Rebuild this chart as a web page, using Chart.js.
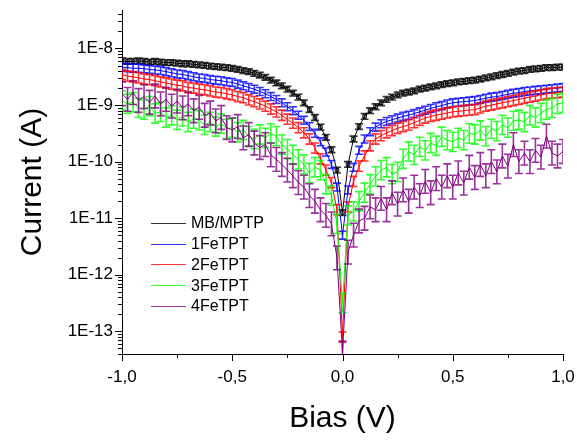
<!doctype html>
<html lang="en">
  <head>
    <meta charset="UTF-8" />
    <title>Current vs Bias</title>
    <script src="https://cdn.jsdelivr.net/npm/chart.js"></script>
    <style>
      html, body { margin: 0; padding: 0; background: #fff; overflow: hidden; }
      .chart-container { position: relative; width: 577px; height: 440px; }
    </style>
  </head>
  <body>
    <div class="chart-container">
      <canvas id="ivChart" width="577" height="440"></canvas>
    </div>

    <script>
      // Bias values (V), step 0.025
      const bias = [
        -1.0, -0.975, -0.95, -0.925, -0.9, -0.875, -0.85, -0.825, -0.8, -0.775,
        -0.75, -0.725, -0.7, -0.675, -0.65, -0.625, -0.6, -0.575, -0.55, -0.525,
        -0.5, -0.475, -0.45, -0.425, -0.4, -0.375, -0.35, -0.325, -0.3, -0.275,
        -0.25, -0.225, -0.2, -0.175, -0.15, -0.125, -0.1, -0.075, -0.05, -0.025,
        0,
        0.025, 0.05, 0.075, 0.1, 0.125, 0.15, 0.175, 0.2, 0.225, 0.25,
        0.275, 0.3, 0.325, 0.35, 0.375, 0.4, 0.425, 0.45, 0.475, 0.5,
        0.525, 0.55, 0.575, 0.6, 0.625, 0.65, 0.675, 0.7, 0.725, 0.75,
        0.775, 0.8, 0.825, 0.85, 0.875, 0.9, 0.925, 0.95, 0.975, 1.0,
      ];

      // log10 of current (A)
      const mbMptp = [
        -8.22, -8.23, -8.23, -8.22, -8.23, -8.24, -8.23, -8.24, -8.25, -8.25,
        -8.26, -8.27, -8.27, -8.28, -8.29, -8.30, -8.31, -8.32, -8.33, -8.34,
        -8.35, -8.37, -8.39, -8.41, -8.44, -8.47, -8.51, -8.56, -8.61, -8.66,
        -8.72, -8.79, -8.86, -8.96, -9.08, -9.22, -9.39, -9.57, -9.79, -10.15,
        -10.9,
        -10.05, -9.60, -9.38, -9.20, -9.10, -9.03, -8.96, -8.90, -8.86, -8.82,
        -8.79, -8.77, -8.75, -8.72, -8.70, -8.68, -8.66, -8.64, -8.62, -8.61,
        -8.59, -8.58, -8.57, -8.56, -8.54, -8.52, -8.50, -8.48, -8.46, -8.44,
        -8.42, -8.40, -8.39, -8.37, -8.36, -8.35, -8.34, -8.34, -8.33, -8.33,
      ];
      const fe1 = [
        -8.33, -8.34, -8.35, -8.35, -8.36, -8.37, -8.38, -8.39, -8.41, -8.43,
        -8.45, -8.46, -8.48, -8.50, -8.52, -8.53, -8.55, -8.56, -8.57, -8.59,
        -8.60, -8.63, -8.66, -8.69, -8.72, -8.76, -8.80, -8.85, -8.90, -8.96,
        -9.03, -9.10, -9.18, -9.27, -9.38, -9.50, -9.65, -9.83, -10.05, -10.45,
        -11.3,
        -10.50, -10.10, -9.80, -9.60, -9.47, -9.39, -9.33, -9.29, -9.26, -9.23,
        -9.20, -9.18, -9.15, -9.12, -9.09, -9.06, -9.03, -9.01, -8.98, -8.96,
        -8.95, -8.94, -8.93, -8.92, -8.90, -8.88, -8.86, -8.85, -8.83, -8.81,
        -8.79, -8.78, -8.76, -8.75, -8.74, -8.73, -8.72, -8.71, -8.70, -8.69,
      ];
      const fe2 = [
        -8.46, -8.49, -8.50, -8.52, -8.54, -8.55, -8.57, -8.59, -8.61, -8.63,
        -8.65, -8.66, -8.69, -8.70, -8.72, -8.73, -8.75, -8.77, -8.78, -8.80,
        -8.82, -8.85, -8.87, -8.91, -8.94, -8.98, -9.02, -9.07, -9.12, -9.18,
        -9.25, -9.32, -9.40, -9.49, -9.60, -9.76, -9.95, -10.15, -10.37, -10.85,
        -13.1,
        -10.80, -10.35, -10.08, -9.90, -9.72, -9.60, -9.54, -9.49, -9.45, -9.41,
        -9.38, -9.35, -9.31, -9.27, -9.23, -9.20, -9.18, -9.16, -9.14, -9.12,
        -9.11, -9.10, -9.09, -9.08, -9.05, -9.02, -9.00, -8.98, -8.96, -8.94,
        -8.92, -8.90, -8.88, -8.86, -8.84, -8.82, -8.80, -8.79, -8.78, -8.77,
      ];
      const fe3 = [
        -8.92, -8.98, -8.95, -9.05, -9.08, -9.02, -9.15, -9.12, -9.22, -9.18,
        -9.26, -9.20, -9.30, -9.24, -9.27, -9.35, -9.30, -9.38, -9.33, -9.42,
        -9.40, -9.48, -9.44, -9.55, -9.60, -9.52, -9.58, -9.50, -9.55, -9.70,
        -9.78, -9.88, -9.96, -10.05, -10.20, -10.10, -10.15, -10.40, -10.60, -11.10,
        -12.5,
        -10.95, -10.88, -10.70, -10.55, -10.40, -10.26, -10.15, -10.10, -10.22, -10.18,
        -9.95, -9.82, -9.88, -9.74, -9.80, -9.67, -9.72, -9.56, -9.62, -9.65,
        -9.58, -9.62, -9.50, -9.52, -9.45, -9.55, -9.42, -9.46, -9.35, -9.40,
        -9.28, -9.26, -9.30, -9.18, -9.22, -9.14, -9.08, -9.05, -8.98, -8.96,
      ];
      const fe4 = [
        -8.80, -8.90, -8.78, -8.92, -8.85, -8.95, -8.84, -8.98, -8.90, -9.02,
        -8.93, -9.05, -8.98, -9.10, -9.04, -9.18, -9.14, -9.28, -9.22, -9.40,
        -9.44, -9.38, -9.58, -9.52, -9.67, -9.75, -9.70, -9.88, -9.96, -10.05,
        -10.15, -10.25, -10.37, -10.45, -10.60, -10.70, -10.85, -10.95, -11.10, -11.70,
        -13.38,
        -11.60, -11.30, -11.05, -11.00, -10.80, -10.85, -10.65, -10.85, -10.55, -10.75,
        -10.50, -10.70, -10.45, -10.60, -10.35, -10.55, -10.30, -10.45, -10.25, -10.45,
        -10.20, -10.38, -10.10, -10.28, -10.05, -10.25, -10.00, -10.18, -9.90, -10.08,
        -9.70, -10.00, -9.85, -10.00, -9.80, -9.92, -9.55, -9.85, -9.90, -9.82,
      ];

      const seriesNames = ["MB/MPTP", "1FeTPT", "2FeTPT", "3FeTPT", "4FeTPT"];
      const seriesLogs = [mbMptp, fe1, fe2, fe3, fe4];
      // error bar half-height, in decades
      const seriesErr = [0.05, 0.07, 0.09, 0.17, 0.21];
      const seriesColors = ["#000000", "#0000ff", "#ff0000", "#00ff00", "#800080"];

      const yTickValues = [1e-13, 1e-12, 1e-11, 1e-10, 1e-9, 1e-8];
      const xTickValues = [-1, -0.5, 0, 0.5, 1];

      const FONT = "'Liberation Sans', Arial, sans-serif";

      // error bars, drawn right after each dataset
      const errorBars = {
        id: "errorBars",
        afterDatasetDraw(chart, args) {
          const i = args.index;
          const meta = args.meta;
          const ys = chart.scales.y;
          const ctx = chart.ctx;
          const err = seriesErr[i];
          ctx.save();
          ctx.beginPath();
          ctx.rect(chart.chartArea.left, chart.chartArea.top,
            chart.chartArea.right - chart.chartArea.left,
            chart.chartArea.bottom - chart.chartArea.top);
          ctx.clip();
          ctx.strokeStyle = seriesColors[i];
          ctx.globalAlpha = 0.8;
          ctx.lineWidth = 1.6;
          meta.data.forEach((pt, k) => {
            const e = seriesLogs[i][k];
            const yHi = ys.getPixelForValue(Math.pow(10, e + err));
            const yLo = ys.getPixelForValue(Math.pow(10, e - err));
            const x = pt.x;
            ctx.beginPath();
            ctx.moveTo(x, yHi);
            ctx.lineTo(x, yLo);
            ctx.moveTo(x - 4, yHi);
            ctx.lineTo(x + 4, yHi);
            ctx.moveTo(x - 4, yLo);
            ctx.lineTo(x + 4, yLo);
            ctx.stroke();
          });
          ctx.restore();
        },
      };

      // outward tick marks (major + minor) and the inset legend
      const axisDecor = {
        id: "axisDecor",
        afterDraw(chart) {
          const ctx = chart.ctx;
          const xs = chart.scales.x;
          const ys = chart.scales.y;
          const area = chart.chartArea;
          ctx.save();
          ctx.strokeStyle = "#000";
          ctx.lineWidth = 1;
          ctx.beginPath();
          for (let e = -14; e <= -8; e++) {
            for (let m = 1; m <= 9; m++) {
              const v = m * Math.pow(10, e);
              if (v < ys.min || v > ys.max) continue;
              const y = Math.round(ys.getPixelForValue(v)) + 0.5;
              ctx.moveTo(area.left, y);
              ctx.lineTo(area.left - (m === 1 ? 7 : 4), y);
            }
          }
          for (let k = 0; k <= 8; k++) {
            const v = -1 + k * 0.25;
            const x = Math.round(xs.getPixelForValue(v)) + 0.5;
            ctx.moveTo(x, area.bottom);
            ctx.lineTo(x, area.bottom + (k % 2 === 0 ? 7 : 4));
          }
          ctx.stroke();

          // legend
          ctx.font = "16px " + FONT;
          ctx.textBaseline = "middle";
          ctx.fillStyle = "#000";
          seriesNames.forEach((name, i) => {
            const y = 223 + i * 20.7;
            ctx.strokeStyle = seriesColors[i];
            ctx.globalAlpha = 0.8;
            ctx.beginPath();
            ctx.moveTo(151, Math.round(y) + 0.5);
            ctx.lineTo(186, Math.round(y) + 0.5);
            ctx.stroke();
            ctx.globalAlpha = 1;
            ctx.fillText(name, 191, y + 1);
          });
          ctx.restore();
        },
      };

      const datasets = seriesNames.map((name, i) => ({
        label: name,
        data: bias.map((b, k) => ({ x: b, y: Math.pow(10, seriesLogs[i][k]) })),
        borderColor: seriesColors[i],
        backgroundColor: "transparent",
        borderWidth: 1,
        pointRadius: i === 0 ? 2.5 : 0,
        pointStyle: "rect",
        pointBorderWidth: 1,
        tension: 0,
        order: 4 - i,
      }));

      const ctx = document.getElementById("ivChart").getContext("2d");
      const ivChart = new Chart(ctx, {
        type: "line",
        data: { datasets },
        plugins: [errorBars, axisDecor],
        options: {
          responsive: false,
          animation: false,
          devicePixelRatio: 1,
          layout: { padding: { top: 10, right: 14, left: 0, bottom: 0 } },
          plugins: { legend: { display: false }, tooltip: { enabled: false } },
          scales: {
            x: {
              type: "linear",
              min: -1,
              max: 1,
              afterBuildTicks: (scale) => {
                scale.ticks = xTickValues.map((v) => ({ value: v }));
              },
              afterFit: (scale) => {
                scale.height = 86;
                scale.paddingLeft = 0;
                scale.paddingRight = 0;
              },
              grid: { display: false, drawTicks: false },
              border: { display: true, color: "#000", width: 1 },
              ticks: {
                color: "#000",
                padding: 13,
                maxRotation: 0,
                font: { family: FONT, size: 17 },
                callback: (v) => Number(v).toFixed(1).replace(".", ","),
              },
              title: {
                display: true,
                text: "Bias (V)",
                color: "#000",
                font: { family: FONT, size: 30 },
                padding: { top: 0, bottom: 3 },
              },
            },
            y: {
              type: "logarithmic",
              min: Math.pow(10, -13.4),
              max: Math.pow(10, -7.32),
              afterBuildTicks: (scale) => {
                scale.ticks = yTickValues.map((v) => ({ value: v }));
              },
              afterFit: (scale) => {
                scale.width = 122;
                scale.paddingTop = 0;
                scale.paddingBottom = 0;
              },
              grid: { display: false, drawTicks: false },
              border: { display: true, color: "#000", width: 1 },
              ticks: {
                color: "#000",
                padding: 9,
                font: { family: FONT, size: 17 },
                callback: (v) => "1E" + Math.round(Math.log10(v)),
              },
              title: {
                display: true,
                text: "Current (A)",
                color: "#000",
                font: { family: FONT, size: 30 },
                padding: { top: 15, bottom: 0 },
              },
            },
          },
        },
      });
    </script>
  </body>
</html>
